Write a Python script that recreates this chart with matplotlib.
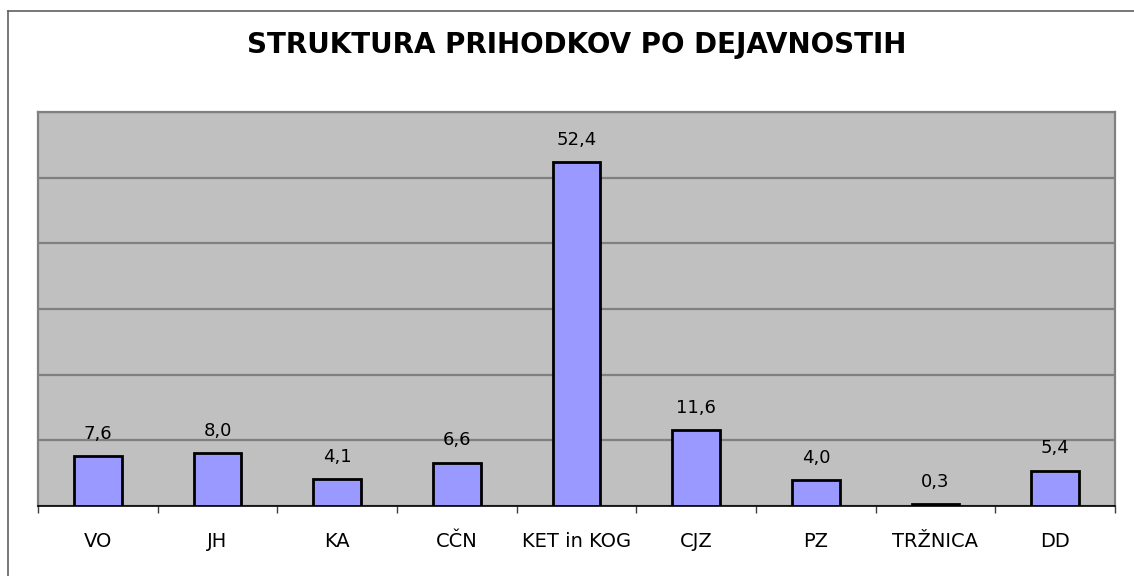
import matplotlib.pyplot as plt
from matplotlib.lines import Line2D

# podatki
kategorije = ['VO', 'JH', 'KA', 'CČN', 'KET in KOG', 'CJZ', 'PZ', 'TRŽNICA', 'DD']
vrednosti = [7.6, 8.0, 4.1, 6.6, 52.4, 11.6, 4.0, 0.3, 5.4]
oznake = ['7,6', '8,0', '4,1', '6,6', '52,4', '11,6', '4,0', '0,3', '5,4']

fig = plt.figure(figsize=(11.34, 5.76), dpi=100)
ax = fig.add_axes([38 / 1134, 70 / 576, 1077 / 1134, 394 / 576])

x = list(range(len(kategorije)))
ax.bar(x, vrednosti, width=0.4, color='#9999FF', edgecolor='black',
       linewidth=2, zorder=3)

for xi, v, t in zip(x, vrednosti, oznake):
    ax.annotate(t, (xi, v), xytext=(0, 9.5), textcoords='offset points',
                ha='center', va='bottom', fontsize=13)

ax.set_xlim(-0.5, len(kategorije) - 0.5)
ax.set_ylim(0, 60)
ax.set_facecolor('#C0C0C0')
ax.set_yticks(range(0, 61, 10))
ax.yaxis.grid(True, color='#808080', linewidth=1.6, zorder=0)
ax.tick_params(axis='y', left=False, labelleft=False)

# oznake med kategorijami
ax.set_xticks([i - 0.5 for i in range(len(kategorije) + 1)])
ax.set_xticklabels([])
ax.set_xticks(x, minor=True)
ax.set_xticklabels(kategorije, minor=True, fontsize=14)
ax.tick_params(axis='x', which='major', length=5, width=1, color='#404040')
ax.tick_params(axis='x', which='minor', length=0, pad=19)

for s in ['top', 'left', 'right']:
    ax.spines[s].set_color('#808080')
    ax.spines[s].set_linewidth(1.6)
ax.spines['bottom'].set_color('black')
ax.spines['bottom'].set_linewidth(1.2)

fig.text(577 / 1134, 1 - 45 / 576, 'STRUKTURA PRIHODKOV PO DEJAVNOSTIH',
         ha='center', va='center', fontsize=20, fontweight='bold')

# obroba grafikona
fig.add_artist(Line2D([8 / 1134, 8 / 1134], [0, 1 - 11 / 576],
                      transform=fig.transFigure, color='#606060', linewidth=1.2))
fig.add_artist(Line2D([8 / 1134, 1], [1 - 11 / 576, 1 - 11 / 576],
                      transform=fig.transFigure, color='#606060', linewidth=1.2))

fig.savefig('out.png', dpi=100)
